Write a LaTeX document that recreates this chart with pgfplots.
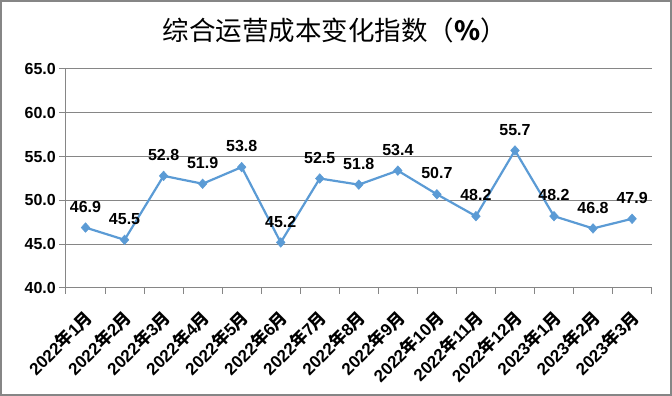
\documentclass[border=0pt]{standalone}
\usepackage{fontspec}
\setmainfont{Liberation Sans}
\newfontfamily\cjk{Noto Sans CJK SC}
\usepackage{pgfplots}
\pgfplotsset{compat=1.18}
\definecolor{lineblue}{HTML}{5B9BD5}
\definecolor{gridgray}{HTML}{868686}
\newcommand{\ym}[2]{\textbf{#1}{\cjk 年}\textbf{#2}{\cjk 月}}
\begin{document}
\begin{tikzpicture}
\begin{axis}[
  scale only axis, width=585.6pt, height=219pt,
  xmin=-0.5, xmax=14.5, ymin=40, ymax=65,
  ytick={40,45,...,65},
  xtick={0,...,14},
  xticklabels={\ym{2022}{1},\ym{2022}{2},\ym{2022}{3},\ym{2022}{4},\ym{2022}{5},\ym{2022}{6},\ym{2022}{7},\ym{2022}{8},\ym{2022}{9},\ym{2022}{10},\ym{2022}{11},\ym{2022}{12},\ym{2023}{1},\ym{2023}{2},\ym{2023}{3}},
  minor xtick={-0.5,0.5,...,14.5},
  axis x line*=bottom, axis y line*=left,
  axis line style={gridgray, line width=1pt, -},
  ymajorgrids, grid style={gridgray, line width=1pt},
  major x tick style={draw=none},
  minor x tick style={gridgray, line width=1pt},
  major y tick style={gridgray, line width=1pt},
  tick align=outside,
  major tick length=7pt, minor tick length=6pt,
  /pgf/number format/assume math mode=true,
  yticklabel style={/pgf/number format/fixed, /pgf/number format/fixed zerofill, /pgf/number format/precision=1, inner sep=0pt, xshift=-3pt},
  ticklabel style={font=\fontsize{16}{18}\selectfont\bfseries},
  xticklabel style={font=\fontsize{17}{19}\selectfont\bfseries, rotate=45, anchor=north east, inner sep=0pt, xshift=-11pt, yshift=-8pt},
  nodes near coords={\pgfmathprintnumber[fixed,fixed zerofill,precision=1]{\pgfplotspointmeta}},
  every node near coord/.append style={font=\fontsize{16}{18}\selectfont\bfseries, anchor=south, inner sep=0pt, yshift=15pt, black},
  clip=false,
]
\addplot[color=lineblue, line width=2.2pt, mark=diamond*, mark size=4.8pt, mark options={fill=lineblue, draw=lineblue, line width=0.5pt, xscale=1.2}]
coordinates {
(0,46.9) (1,45.5) (2,52.8) (3,51.9) (4,53.8) (5,45.2) (6,52.5) (7,51.8) (8,53.4) (9,50.7) (10,48.2) (11,55.7) (12,48.2) (13,46.8) (14,47.9)
};
\end{axis}
\useasboundingbox ([shift={(-66pt,-108pt)}]current axis.south west) rectangle ([shift={(606pt,288pt)}]current axis.south west);
\draw[gridgray, line width=1.5pt] ([shift={(-64.8pt,-106.8pt)}]current axis.south west) rectangle ([shift={(604.8pt,286.8pt)}]current axis.south west);
\node[font=\cjk\fontsize{26.5}{28}\selectfont, inner sep=0pt] at ([shift={(269pt,258pt)}]current axis.south west) {综合运营成本变化指数（\textbf{\%}）};
\end{tikzpicture}
\end{document}
